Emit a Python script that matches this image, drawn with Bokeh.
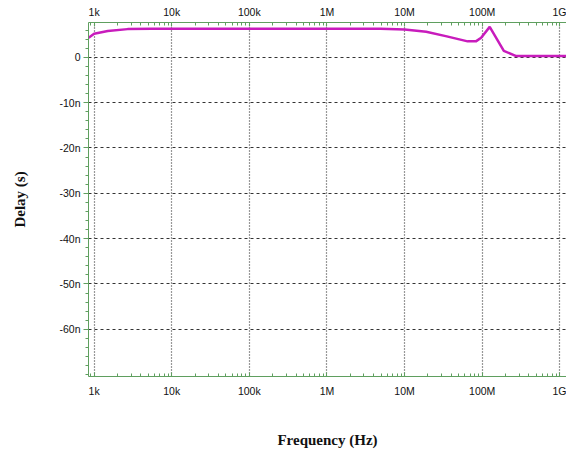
from bokeh.plotting import figure
from bokeh.models import LogAxis, FixedTicker
from bokeh.embed import file_html
from bokeh.resources import INLINE

# Group delay versus frequency (delay in nanoseconds)
freq_hz = [850, 1000, 1500, 2700, 5500, 1e5, 1e6, 4.9e6, 1e7, 1.9e7, 3.5e7,
           6.5e7, 8.3e7, 9.7e7, 1.25e8, 1.9e8, 2.7e8, 1.3e9]
delay_ns = [4.3, 5.2, 5.8, 6.2, 6.3, 6.3, 6.3, 6.3, 6.1, 5.6, 4.6,
            3.5, 3.5, 4.3, 6.7, 1.4, 0.3, 0.3]

x_ticks = [1e3, 1e4, 1e5, 1e6, 1e7, 1e8, 1e9]
x_tick_labels = ["1k", "10k", "100k", "1M", "10M", "100M", "1G"]
y_ticks = [0, -10, -20, -30, -40, -50, -60]
y_tick_labels = ["0", "-10n", "-20n", "-30n", "-40n", "-50n", "-60n"]

x_minor = [m * d for d in [1e2, 1e3, 1e4, 1e5, 1e6, 1e7, 1e8, 1e9] for m in range(2, 10)]
y_minor = list(range(-70, 8, 2))

AXIS_GREEN = "#5f9f5f"
TICK_FONT = "Liberation Sans"
LABEL_FONT = "Liberation Serif"
TEXT_COLOR = "#111111"

p = figure(width=566, height=450, x_axis_type="log",
           x_range=(847, 1.22e9), y_range=(-70.4, 7.66),
           output_backend="svg", toolbar_location=None,
           min_border_left=88, min_border_right=0,
           min_border_top=22, min_border_bottom=74)
p.outline_line_color = None
p.background_fill_color = "white"
p.border_fill_color = "white"

bottom_axis = p.below[0]
top_axis = LogAxis()
p.add_layout(top_axis, "above")

x_overrides = {t: lab for t, lab in zip(x_ticks, x_tick_labels)}
for ax in [bottom_axis, top_axis]:
    ax.ticker = FixedTicker(ticks=x_ticks, minor_ticks=x_minor)
    ax.major_label_overrides = x_overrides
    ax.axis_line_color = AXIS_GREEN
    ax.major_tick_line_color = AXIS_GREEN
    ax.minor_tick_line_color = AXIS_GREEN
    ax.major_tick_in = 4
    ax.major_tick_out = 0
    ax.minor_tick_in = 3
    ax.minor_tick_out = 0
    ax.major_label_text_font = TICK_FONT
    ax.major_label_text_font_size = "10.5px"
    ax.major_label_text_color = TEXT_COLOR

bottom_axis.major_label_standoff = 8
top_axis.major_label_standoff = 5
bottom_axis.axis_label = "Frequency (Hz)"
bottom_axis.axis_label_text_font = LABEL_FONT
bottom_axis.axis_label_text_font_style = "bold"
bottom_axis.axis_label_text_font_size = "15px"
bottom_axis.axis_label_text_color = TEXT_COLOR
bottom_axis.axis_label_standoff = 32

ya = p.left[0]
ya.ticker = FixedTicker(ticks=y_ticks, minor_ticks=y_minor)
ya.major_label_overrides = {t: lab for t, lab in zip(y_ticks, y_tick_labels)}
ya.axis_line_color = AXIS_GREEN
ya.major_tick_line_color = AXIS_GREEN
ya.minor_tick_line_color = AXIS_GREEN
ya.major_tick_in = 0
ya.major_tick_out = 5
ya.minor_tick_in = 0
ya.minor_tick_out = 3
ya.major_label_standoff = 3
ya.major_label_text_font = TICK_FONT
ya.major_label_text_font_size = "10.5px"
ya.major_label_text_color = TEXT_COLOR
ya.axis_label = "Delay (s)"
ya.axis_label_text_font = LABEL_FONT
ya.axis_label_text_font_style = "bold"
ya.axis_label_text_font_size = "15px"
ya.axis_label_text_color = TEXT_COLOR
ya.axis_label_standoff = 28

p.xgrid.grid_line_color = "#333333"
p.xgrid.grid_line_dash = "1 2"
p.xgrid.grid_line_width = 1.2
p.ygrid.grid_line_color = "#333333"
p.ygrid.grid_line_dash = "3 3"
p.ygrid.grid_line_width = 1

p.line(freq_hz, delay_ns, line_color="#c81cbc", line_width=2.5)

open("out.html", "w").write(file_html(p, INLINE))
